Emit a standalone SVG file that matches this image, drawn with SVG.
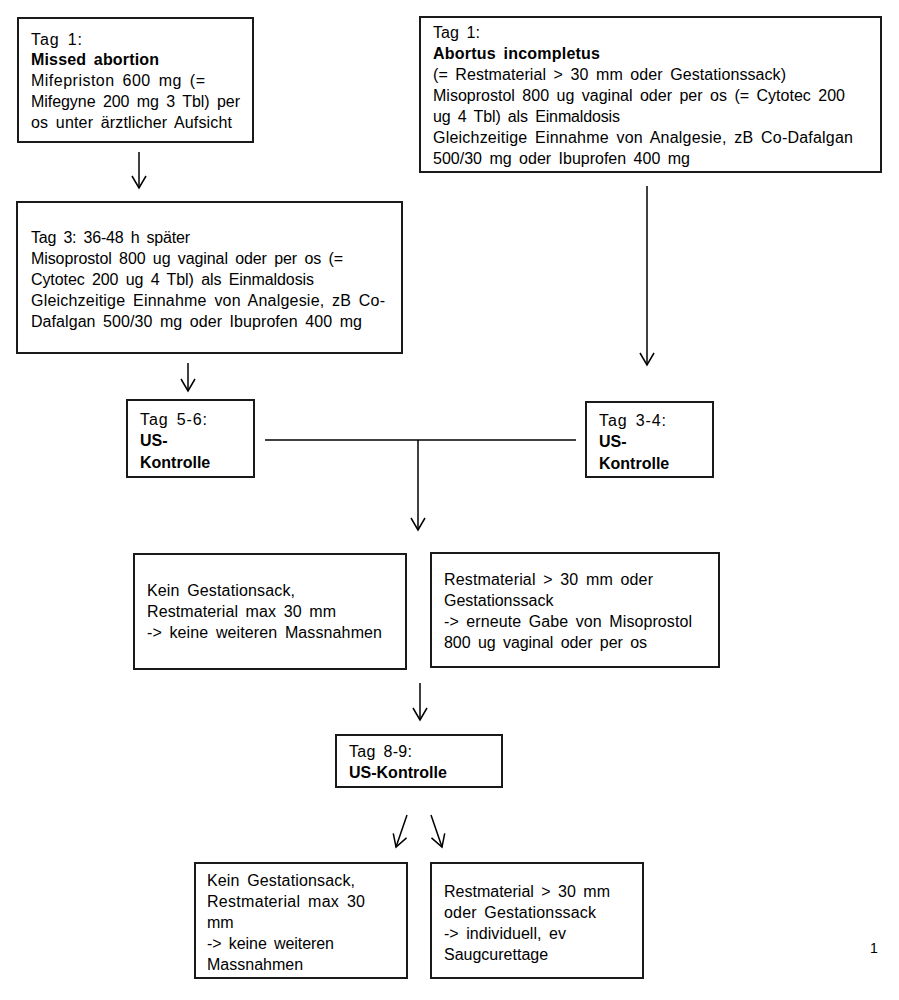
<svg xmlns="http://www.w3.org/2000/svg" width="899" height="1000" viewBox="0 0 899 1000">
<style>
.box{fill:#fff;stroke:#1a1a1a;stroke-width:2}
.t{font-family:"Liberation Sans",Arial,sans-serif;font-size:16px;fill:#000;word-spacing:3px}
.b{font-weight:bold}
.ln{fill:none;stroke:#000;stroke-width:1.5}
</style>
<defs>
<marker id="ah" viewBox="-14 -9 16 18" markerWidth="16" markerHeight="18" refX="0" refY="0" orient="auto" markerUnits="userSpaceOnUse">
<path d="M-12,-7 L0,0 L-12,7" fill="none" stroke="#000" stroke-width="1.5"/>
</marker>
</defs>
<rect width="899" height="1000" fill="#fff"/>
<g id="connectors">
<line class="ln" x1="139" y1="152" x2="139" y2="188" marker-end="url(#ah)"/>
<line class="ln" x1="188" y1="363" x2="188" y2="391" marker-end="url(#ah)"/>
<line class="ln" x1="647" y1="186" x2="647" y2="365" marker-end="url(#ah)"/>
<line class="ln" x1="265" y1="440" x2="576" y2="440"/>
<line class="ln" x1="418" y1="440" x2="418" y2="530" marker-end="url(#ah)"/>
<line class="ln" x1="420" y1="683" x2="420" y2="720" marker-end="url(#ah)"/>
<line class="ln" x1="407" y1="815" x2="396" y2="847" marker-end="url(#ah)"/>
<line class="ln" x1="431" y1="815" x2="442" y2="847" marker-end="url(#ah)"/>
</g>
<g id="n1">
<rect class="box" x="18" y="18" width="235" height="124"/>
<text class="t" x="31" y="45" textLength="51">Tag 1:</text>
<text class="t b" x="31" y="65" textLength="128">Missed abortion</text>
<text class="t" x="31" y="86" textLength="174">Mifepriston 600 mg (=</text>
<text class="t" x="31" y="107" textLength="209">Mifegyne 200 mg 3 Tbl) per</text>
<text class="t" x="31" y="128" textLength="201">os unter ärztlicher Aufsicht</text>
</g>
<g id="n2">
<rect class="box" x="420" y="17" width="461" height="155"/>
<text class="t" x="433" y="38" textLength="47">Tag 1:</text>
<text class="t b" x="433" y="59" textLength="167">Abortus incompletus</text>
<text class="t" x="433" y="80" textLength="353">(= Restmaterial &gt; 30 mm oder Gestationssack)</text>
<text class="t" x="433" y="101" textLength="412">Misoprostol 800 ug vaginal oder per os (= Cytotec 200</text>
<text class="t" x="433" y="122" textLength="187">ug 4 Tbl) als Einmaldosis</text>
<text class="t" x="433" y="143" textLength="420">Gleichzeitige Einnahme von Analgesie, zB Co-Dafalgan</text>
<text class="t" x="433" y="164" textLength="257">500/30 mg oder Ibuprofen 400 mg</text>
</g>
<g id="n3">
<rect class="box" x="17" y="202" width="385" height="151"/>
<text class="t" x="31" y="243" textLength="159">Tag 3: 36-48 h später</text>
<text class="t" x="31" y="264" textLength="312">Misoprostol 800 ug vaginal oder per os (=</text>
<text class="t" x="31" y="285" textLength="283">Cytotec 200 ug 4 Tbl) als Einmaldosis</text>
<text class="t" x="31" y="306" textLength="354">Gleichzeitige Einnahme von Analgesie, zB Co-</text>
<text class="t" x="31" y="327" textLength="331">Dafalgan 500/30 mg oder Ibuprofen 400 mg</text>
</g>
<g id="n4">
<rect class="box" x="127" y="400" width="127" height="77"/>
<text class="t" x="140" y="425" textLength="67">Tag 5-6:</text>
<text class="t b" x="140" y="446">US-</text>
<text class="t b" x="140" y="468">Kontrolle</text>
</g>
<g id="n5">
<rect class="box" x="586" y="402" width="127" height="75"/>
<text class="t" x="599" y="426" textLength="67">Tag 3-4:</text>
<text class="t b" x="599" y="447">US-</text>
<text class="t b" x="599" y="469">Kontrolle</text>
</g>
<g id="n6">
<rect class="box" x="134" y="554" width="272" height="115"/>
<text class="t" x="147" y="596" textLength="148">Kein Gestationsack,</text>
<text class="t" x="147" y="617" textLength="189">Restmaterial max 30 mm</text>
<text class="t" x="147" y="638" textLength="235">-&gt; keine weiteren Massnahmen</text>
</g>
<g id="n7">
<rect class="box" x="431" y="553" width="288" height="114"/>
<text class="t" x="444" y="585" textLength="209">Restmaterial &gt; 30 mm oder</text>
<text class="t" x="444" y="606">Gestationssack</text>
<text class="t" x="444" y="627" textLength="248">-&gt; erneute Gabe von Misoprostol</text>
<text class="t" x="444" y="648" textLength="203">800 ug vaginal oder per os</text>
</g>
<g id="n8">
<rect class="box" x="336" y="735" width="166" height="52"/>
<text class="t" x="349" y="757" textLength="63">Tag 8-9:</text>
<text class="t b" x="349" y="778">US-Kontrolle</text>
</g>
<g id="n9">
<rect class="box" x="195" y="863" width="212" height="115"/>
<text class="t" x="207" y="886" textLength="148">Kein Gestationsack,</text>
<text class="t" x="207" y="907" textLength="158">Restmaterial max 30</text>
<text class="t" x="207" y="928">mm</text>
<text class="t" x="207" y="949" textLength="127">-&gt; keine weiteren</text>
<text class="t" x="207" y="970">Massnahmen</text>
</g>
<g id="n10">
<rect class="box" x="431" y="863" width="212" height="115"/>
<text class="t" x="444" y="897" textLength="166">Restmaterial &gt; 30 mm</text>
<text class="t" x="444" y="918" textLength="152">oder Gestationssack</text>
<text class="t" x="444" y="939" textLength="122">-&gt; individuell, ev</text>
<text class="t" x="444" y="960">Saugcurettage</text>
</g>
<text class="t" x="870" y="953" style="font-size:14px">1</text>
</svg>
